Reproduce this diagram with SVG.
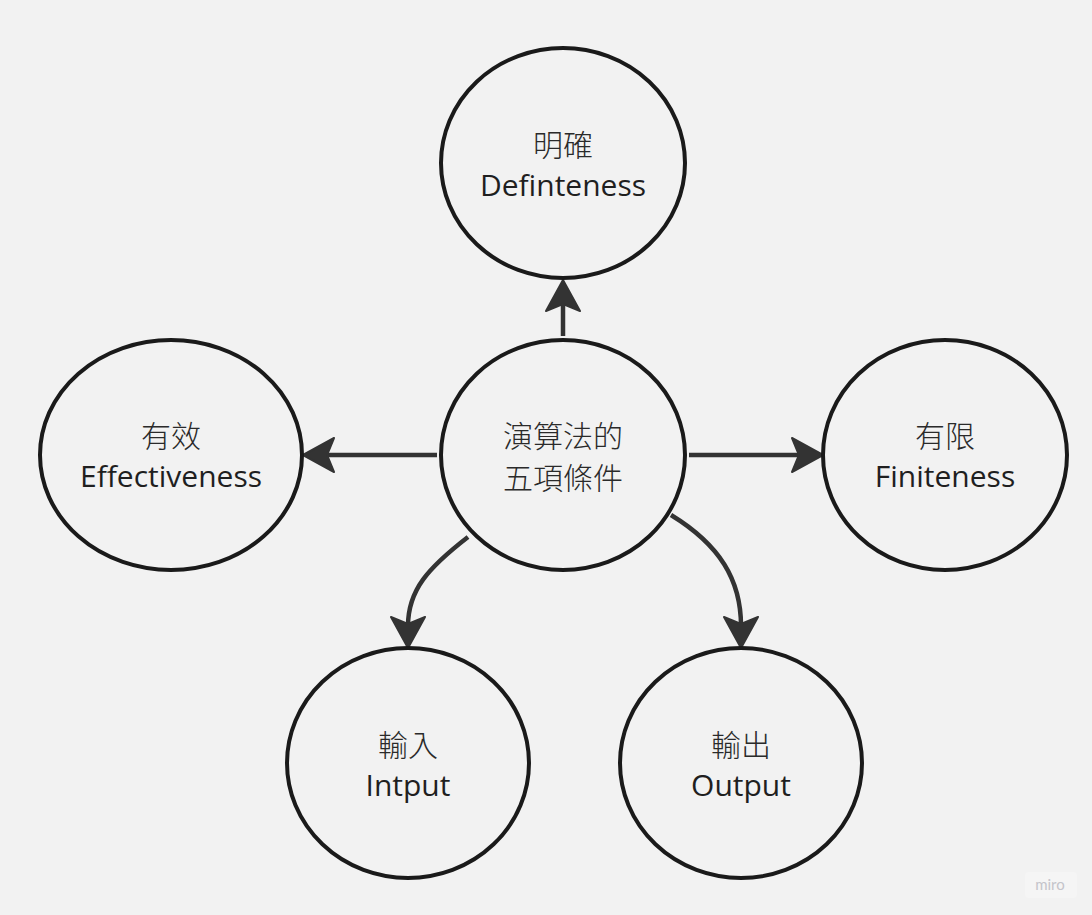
<svg xmlns="http://www.w3.org/2000/svg" width="1092" height="915" viewBox="0 0 1092 915">
<style>
.node ellipse{fill:#f2f2f2;stroke:#1a1a1a;stroke-width:4}
.cjk{font-family:"Noto Sans CJK TC","Noto Sans CJK SC",sans-serif;font-size:30px;font-weight:300;fill:#2a2a2a;text-anchor:middle}
.lat{font-family:"Open Sans","Noto Sans",sans-serif;font-size:30px;fill:#1f1f1f;text-anchor:middle}
.conn path{fill:none;stroke:#333;stroke-width:4.5}
</style>
<defs>
<marker id="ah" markerUnits="userSpaceOnUse" markerWidth="44" markerHeight="44" viewBox="-36 -22 44 44" refX="-22" refY="0" orient="auto">
<path d="M0,0 L-31,-17 L-24,0 L-31,17 Z" fill="#333" stroke="#333" stroke-width="2" stroke-linejoin="round"/>
</marker>
</defs>
<rect width="1092" height="915" fill="#f2f2f2"/>
<g class="conn" id="connectors">
<path d="M563,336 L563,302" marker-end="url(#ah)"/>
<path d="M437,455 L325,455" marker-end="url(#ah)"/>
<path d="M689,455 L801,455" marker-end="url(#ah)"/>
<path d="M468,537 C428,568 408,590 408,626" marker-end="url(#ah)"/>
<path d="M671,515 C720,545 741,580 741,626" marker-end="url(#ah)"/>
</g>
<g class="node" id="n-center"><ellipse cx="563" cy="455" rx="122" ry="115"/>
<text class="cjk" x="563" y="447">演算法的</text><text class="cjk" x="563" y="489">五項條件</text></g>
<g class="node" id="n-top"><ellipse cx="563" cy="163" rx="122" ry="115"/>
<text class="cjk" x="563" y="156">明確</text><text class="lat" x="563" y="196">Definteness</text></g>
<g class="node" id="n-left"><ellipse cx="171" cy="455" rx="131" ry="115"/>
<text class="cjk" x="171" y="447">有效</text><text class="lat" x="171" y="487">Effectiveness</text></g>
<g class="node" id="n-right"><ellipse cx="945" cy="455" rx="122" ry="115"/>
<text class="cjk" x="945" y="447">有限</text><text class="lat" x="945" y="487">Finiteness</text></g>
<g class="node" id="n-input"><ellipse cx="408" cy="763" rx="121" ry="115"/>
<text class="cjk" x="408" y="756">輸入</text><text class="lat" x="408" y="796">Intput</text></g>
<g class="node" id="n-output"><ellipse cx="741" cy="763" rx="121" ry="115"/>
<text class="cjk" x="741" y="756">輸出</text><text class="lat" x="741" y="796">Output</text></g>
<g id="logo"><rect x="1025" y="872" width="52" height="26" rx="4" fill="#f5f5f5"/>
<text x="1050" y="890" font-family="Lato,'Open Sans',sans-serif" font-size="15" fill="#c4c4ca" text-anchor="middle">miro</text></g>
</svg>
